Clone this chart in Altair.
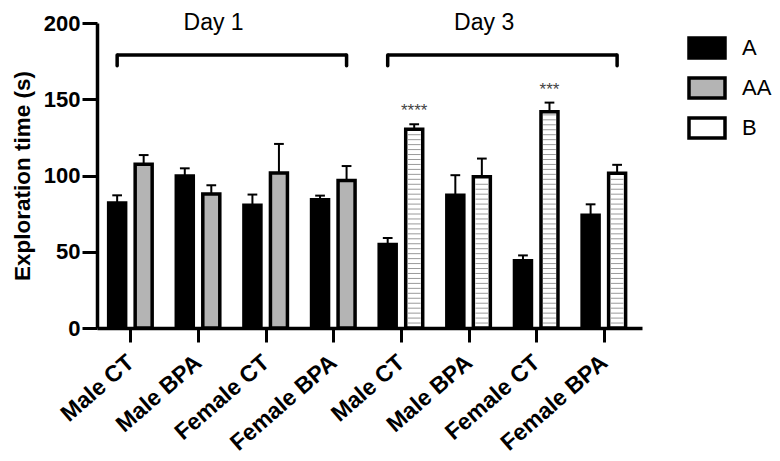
import json
import altair as alt
import numpy as np
import pandas as pd

# ---- data ----
groups = ["Male CT", "Male BPA", "Female CT", "Female BPA"]
day_names = ["Day 1", "Day 3"]
day1_A = [82.0, 99.6, 80.5, 84.1]
day1_A_err = [5.0, 5.1, 7.0, 2.7]
day1_AA = [107.4, 87.9, 101.7, 96.8]
day1_AA_err = [6.0, 5.7, 19.0, 9.4]
day3_A = [54.8, 87.1, 44.1, 73.9]
day3_A_err = [4.2, 13.1, 3.5, 7.2]
day3_B = [130.4, 99.2, 141.8, 101.5]
day3_B_err = [3.2, 11.9, 6.0, 5.5]
day3_stars = ["****", "", "***", ""]
tick_labels = groups + groups
series_names = ["A", "AA", "B"]
series_colors = ["#000000", "#b4b4b4", "#ffffff"]
bracket_level = [179, 179]
bracket_drop = [172, 172]
day_label_level = [200, 200]

OFF = 0.196  # half distance between the two bars of a group (x units)

rows = []
for g in range(4):
    rows.append(dict(idx=g, side=-1, series="A", value=day1_A[g], err=day1_A_err[g], stars=""))
    rows.append(dict(idx=g, side=1, series="AA", value=day1_AA[g], err=day1_AA_err[g], stars=""))
for g in range(4):
    rows.append(dict(idx=4 + g, side=-1, series="A", value=day3_A[g], err=day3_A_err[g], stars=""))
    rows.append(dict(idx=4 + g, side=1, series="B", value=day3_B[g], err=day3_B_err[g], stars=day3_stars[g]))
df = pd.DataFrame(rows)
df["xc"] = df["idx"] + df["side"] * OFF
df["top"] = df["value"] + df["err"]
df["cl"] = df["xc"] - 0.072
df["cr"] = df["xc"] + 0.072
df["star_y"] = df["top"] + 8.5

# hatch lines for the B bars (decoration derived from the B values)
hatch_rows = []
step = 3.25
for _, r in df[df["series"] == "B"].iterrows():
    for lv in np.arange(step, r["value"] - 1.8, step):
        hatch_rows.append(dict(hl=r["xc"] - 0.095, hr=r["xc"] + 0.095, level=float(lv)))
hatch = pd.DataFrame(hatch_rows)

br = pd.DataFrame(dict(
    day=day_names,
    start=[0 - OFF, 4 - OFF],
    end=[3 + OFF, 7 + OFF],
    level=bracket_level,
    drop=bracket_drop,
    lab=day_label_level,
))
br["tx"] = (br["start"] + br["end"]) / 2 - 0.27

FONT = "Liberation Sans"
xs = alt.Scale(domain=[-0.42, 7.49], nice=False, zero=False)
ys = alt.Scale(domain=[0, 200], nice=False, zero=True)

xaxis = alt.Axis(
    values=list(range(8)),
    labelExpr=json.dumps(tick_labels) + "[datum.value]",
    labelAngle=-41, labelAlign="right", labelBaseline="middle",
    labelFontSize=23, labelFontWeight="bold", labelFont=FONT, labelColor="black",
    labelPadding=17, tickSize=14, tickWidth=3, tickColor="black",
    domainWidth=3.5, domainColor="black", grid=False, title=None, labelOverlap=False,
)
yaxis = alt.Axis(
    values=[0, 50, 100, 150, 200],
    labelFontSize=22, labelFontWeight="bold", labelFont=FONT, labelColor="black",
    labelPadding=2, tickSize=15, tickWidth=3, tickColor="black",
    domainWidth=3.5, domainColor="black", grid=False,
    title="Exploration time (s)", titleFontSize=22.5, titleFontWeight="bold",
    titleFont=FONT, titleColor="black", titlePadding=9,
)


def X(f):
    return alt.X(f, type="quantitative", scale=xs, axis=xaxis)


def Y(f):
    return alt.Y(f, type="quantitative", scale=ys, axis=yaxis)


base = alt.Chart(df)

err_line = base.mark_rule(color="black", strokeWidth=2).encode(
    x=X("xc"), y=Y("value"), y2="top"
)
caps = base.mark_rule(color="black", strokeWidth=2).encode(
    x=X("cl"), x2="cr", y=Y("top")
)
bars = base.mark_bar(orient="vertical", size=17, stroke="black", strokeWidth=3.5).encode(
    x=X("xc"), y=Y("value"),
    color=alt.Color(
        "series:N",
        scale=alt.Scale(domain=series_names, range=series_colors),
        legend=alt.Legend(
            title=None, orient="none", legendX=590, legendY=5,
            symbolType="M-1,-0.55L1,-0.55L1,0.55L-1,0.55Z", symbolSize=1296,
            symbolStrokeColor="black", symbolStrokeWidth=3.5, symbolOpacity=1,
            labelFontSize=22, labelFont=FONT, labelColor="black",
            rowPadding=3, labelOffset=15, padding=0,
        ),
    ),
)
hatch_layer = alt.Chart(hatch).mark_rule(color="#9a9a9a", strokeWidth=1).encode(
    x=X("hl"), x2="hr", y=Y("level")
)
stars = base.transform_filter("datum.stars != ''").mark_text(
    fontSize=17, color="#444444", font=FONT, baseline="middle"
).encode(x=X("xc"), y=Y("star_y"), text="stars:N")

bch = alt.Chart(br)
b_h = bch.mark_rule(color="black", strokeWidth=3.5).encode(x=X("start"), x2="end", y=Y("level"))
b_l = bch.mark_rule(color="black", strokeWidth=3.5, strokeCap="round").encode(x=X("start"), y=Y("drop"), y2="level")
b_r = bch.mark_rule(color="black", strokeWidth=3.5, strokeCap="round").encode(x=X("end"), y=Y("drop"), y2="level")
b_t = bch.mark_text(fontSize=23, font=FONT, color="black", baseline="middle").encode(
    x=X("tx"), y=Y("lab"), text="day:N"
)

chart = alt.layer(err_line, caps, bars, hatch_layer, stars, b_h, b_l, b_r, b_t).properties(
    width=545, height=305, autosize="none",
    padding={"left": 89, "top": 15, "right": 130, "bottom": 127},
).configure_view(strokeWidth=0)

chart.save("out.html", embed_options={"renderer": "svg", "actions": False})
